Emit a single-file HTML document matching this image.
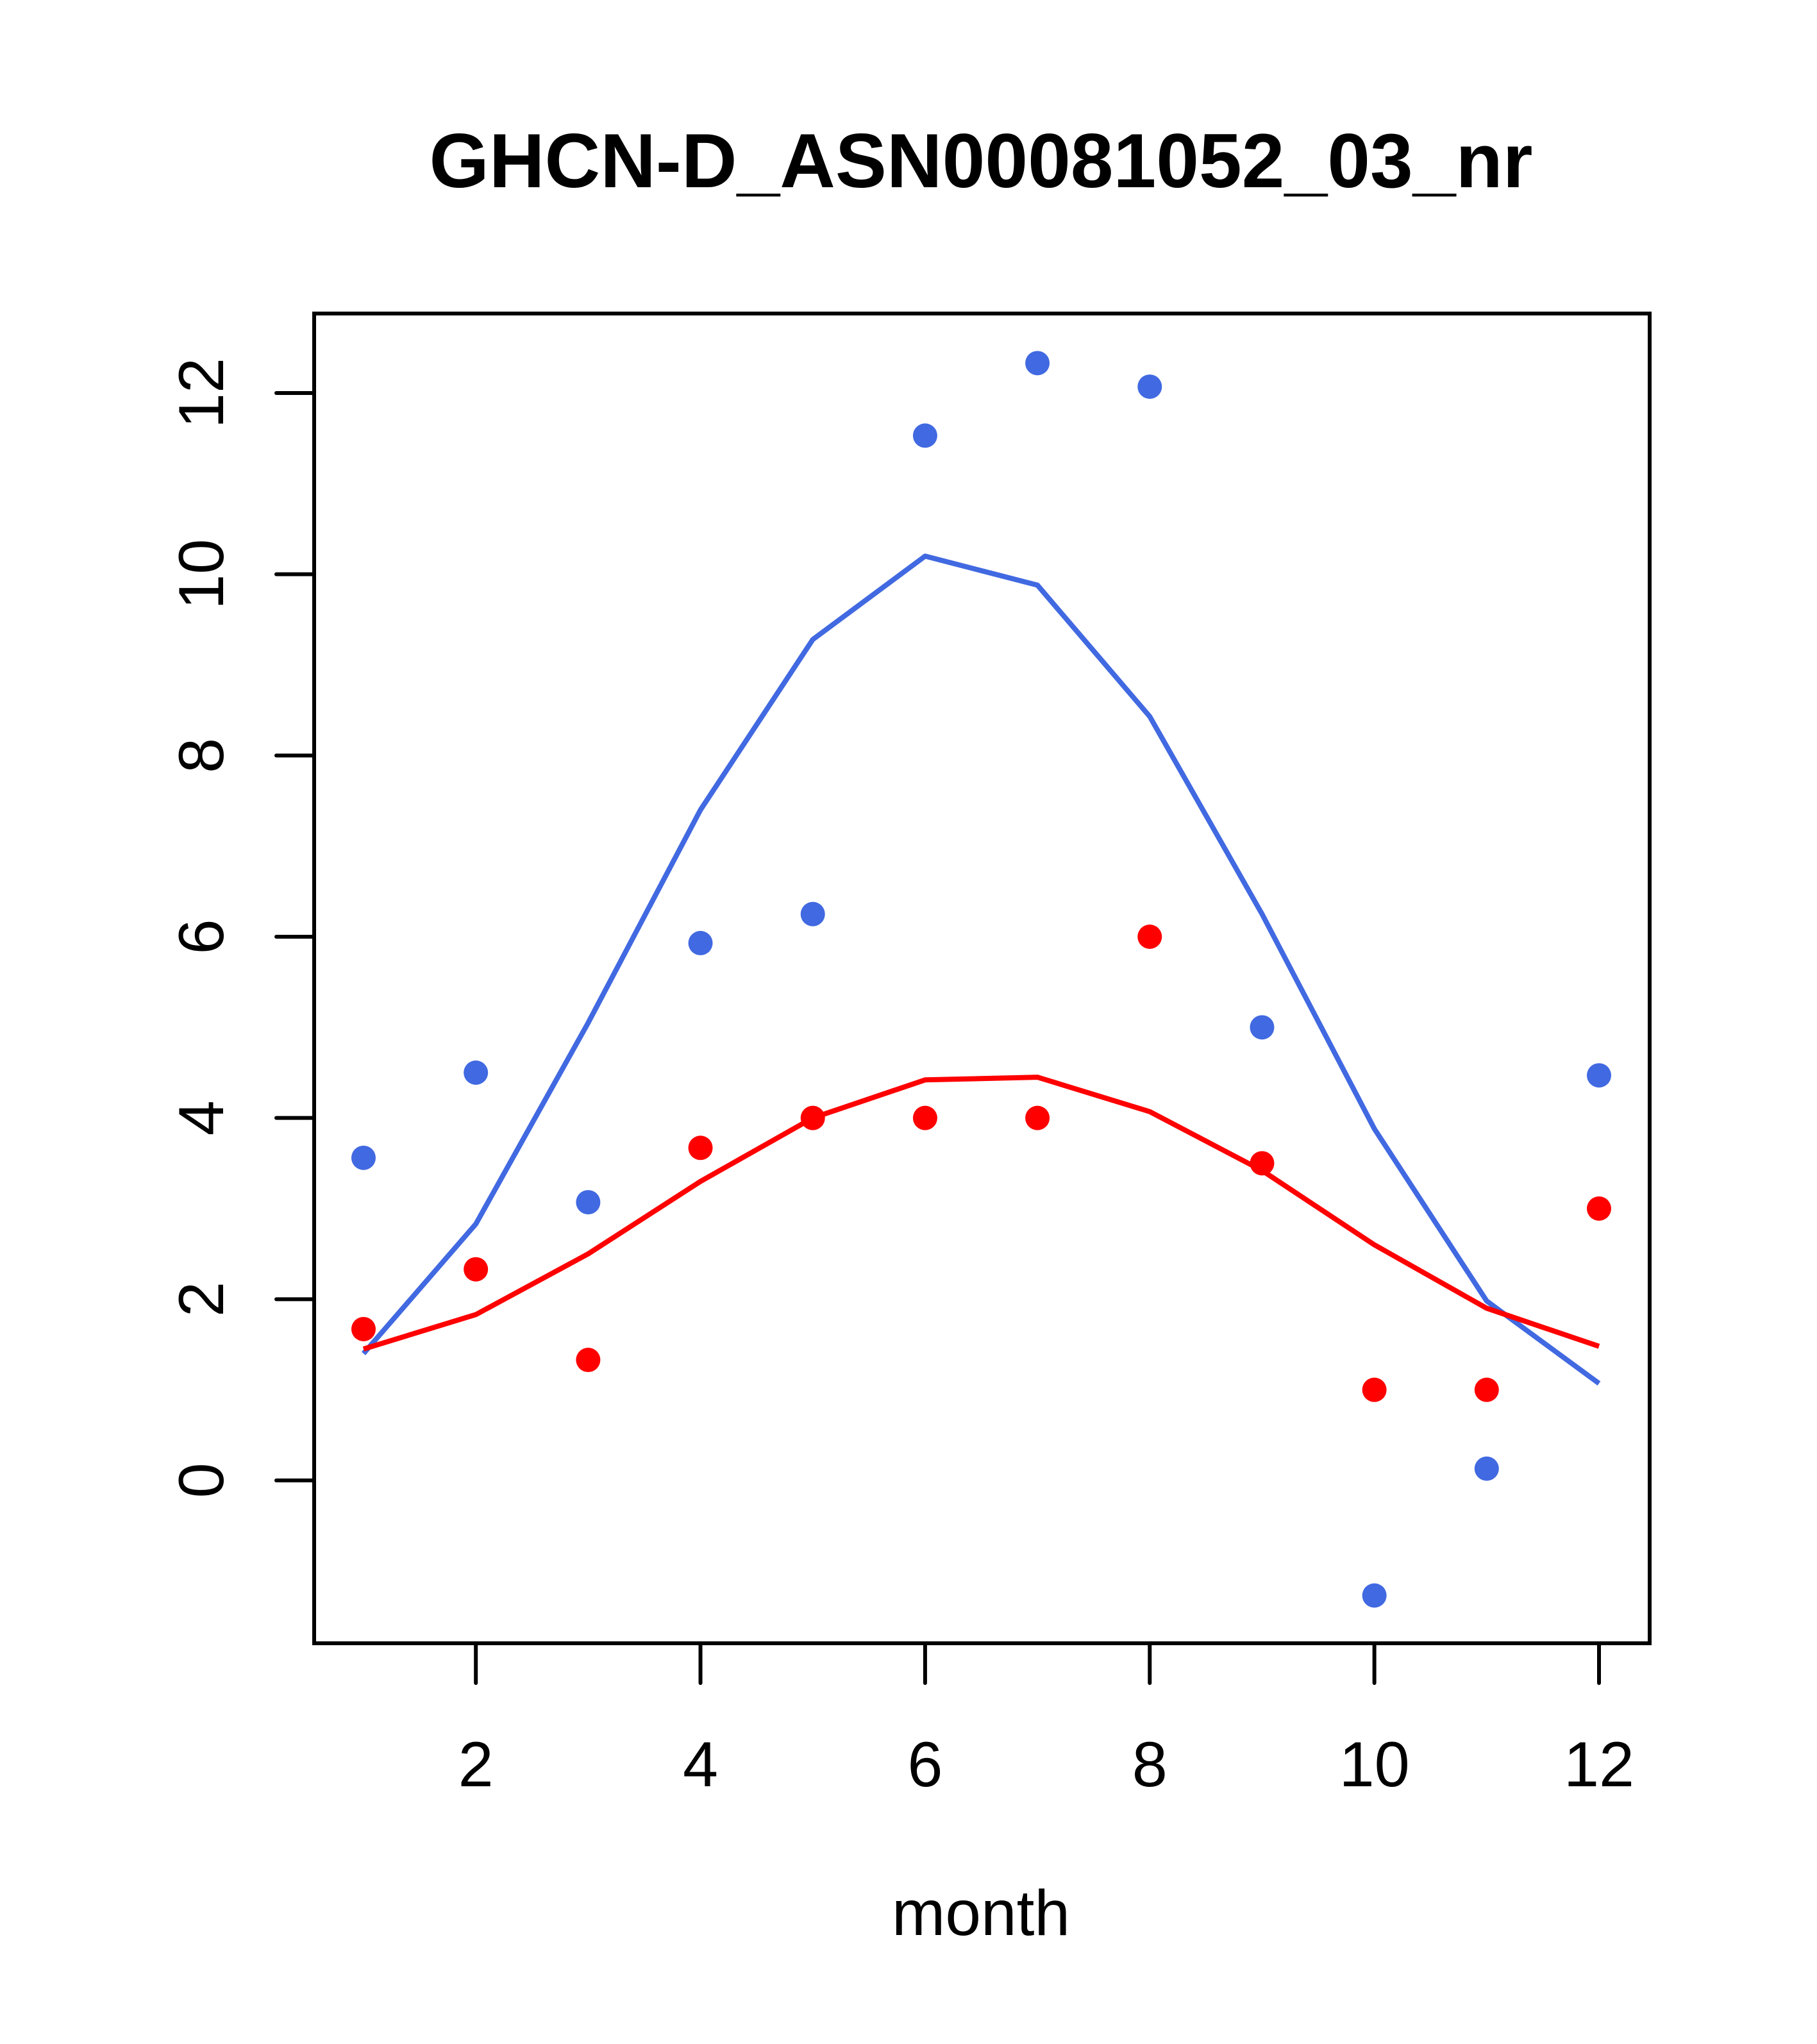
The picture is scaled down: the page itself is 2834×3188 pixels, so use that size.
<!DOCTYPE html>
<html><head><meta charset="utf-8"><style>
html,body{margin:0;padding:0;background:#fff;}
svg{display:block;font-family:"Liberation Sans",Arial,sans-serif;}
</style></head><body>
<svg id="chart" width="2834" height="3188" viewBox="0 0 2834 3188" xmlns="http://www.w3.org/2000/svg">
<rect width="2834" height="3188" fill="#fff"/>
<text x="1530" y="292" font-size="120" font-weight="bold" text-anchor="middle">GHCN-D_ASN00081052_03_nr</text>
<text x="1530" y="3018" font-size="100" text-anchor="middle">month</text>
<g id="axes"></g>
<g id="marks"></g>
<rect x="490" y="489" width="2083" height="2074" fill="none" stroke="#000" stroke-width="6"/>
</svg>
<script>
const months = [1,2,3,4,5,6,7,8,9,10,11,12];
const bluePoints = [3.56,4.5,3.07,5.93,6.25,11.53,12.33,12.07,5.0,-1.27,0.13,4.47];
const redPoints = [1.67,2.33,1.33,3.67,4,4,4,6,3.5,1,1,3];
const blueLine = [1.4,2.83,5.05,7.4,9.28,10.2,9.88,8.43,6.25,3.88,1.98,1.07];
const redLine = [1.45,1.83,2.5,3.3,4.0,4.42,4.45,4.07,3.42,2.6,1.9,1.48];
const xTicks = [2,4,6,8,10,12];
const yTicks = [0,2,4,6,8,10,12];

const NS = "http://www.w3.org/2000/svg";
function xs(v){ return 567 + (v-1)*(2494-567)/11; }
function ys(v){ return 2309 - v*(2309-613)/12; }
function mk(tag, attrs, parent){
  const e = document.createElementNS(NS, tag);
  for (const k in attrs) e.setAttribute(k, attrs[k]);
  parent.appendChild(e);
  return e;
}
const axes = document.getElementById('axes');
const marks = document.getElementById('marks');

xTicks.forEach(t=>{
  const l = mk('line',{x1:xs(t),x2:xs(t),y1:2563,y2:2625,stroke:'#000','stroke-width':6,'stroke-linecap':'round'},axes);
  
  
  const tx = mk('text',{x:xs(t),y:2786,'font-size':99,'text-anchor':'middle'},axes);
  tx.textContent = t;
  
  
});
yTicks.forEach(t=>{
  const l = mk('line',{x1:431,x2:490,y1:ys(t),y2:ys(t),stroke:'#000','stroke-width':6,'stroke-linecap':'round'},axes);
  
  
  const tx = mk('text',{x:0,y:0,'font-size':99,'text-anchor':'middle',transform:'translate(348,'+ys(t)+') rotate(-90)'},axes);
  tx.textContent = t;
  
  
});

function line(vals, color, name){
  const d = vals.map((v,i)=>(i?'L':'M')+xs(months[i])+','+ys(v)).join(' ');
  const p = mk('path',{d:d,fill:'none',stroke:color,'stroke-width':8,'stroke-linejoin':'round'},marks);
  
  
}
function pts(vals, color, name){
  vals.forEach((v,i)=>{
    const c = mk('circle',{cx:xs(months[i]),cy:ys(v),r:19,fill:color},marks);
    
    
  });
}
line(blueLine,'#4169E1','blue-line');
line(redLine,'#FF0000','red-line');
pts(bluePoints,'#4169E1','blue-point');
pts(redPoints,'#FF0000','red-point');
</script>
</body></html>
